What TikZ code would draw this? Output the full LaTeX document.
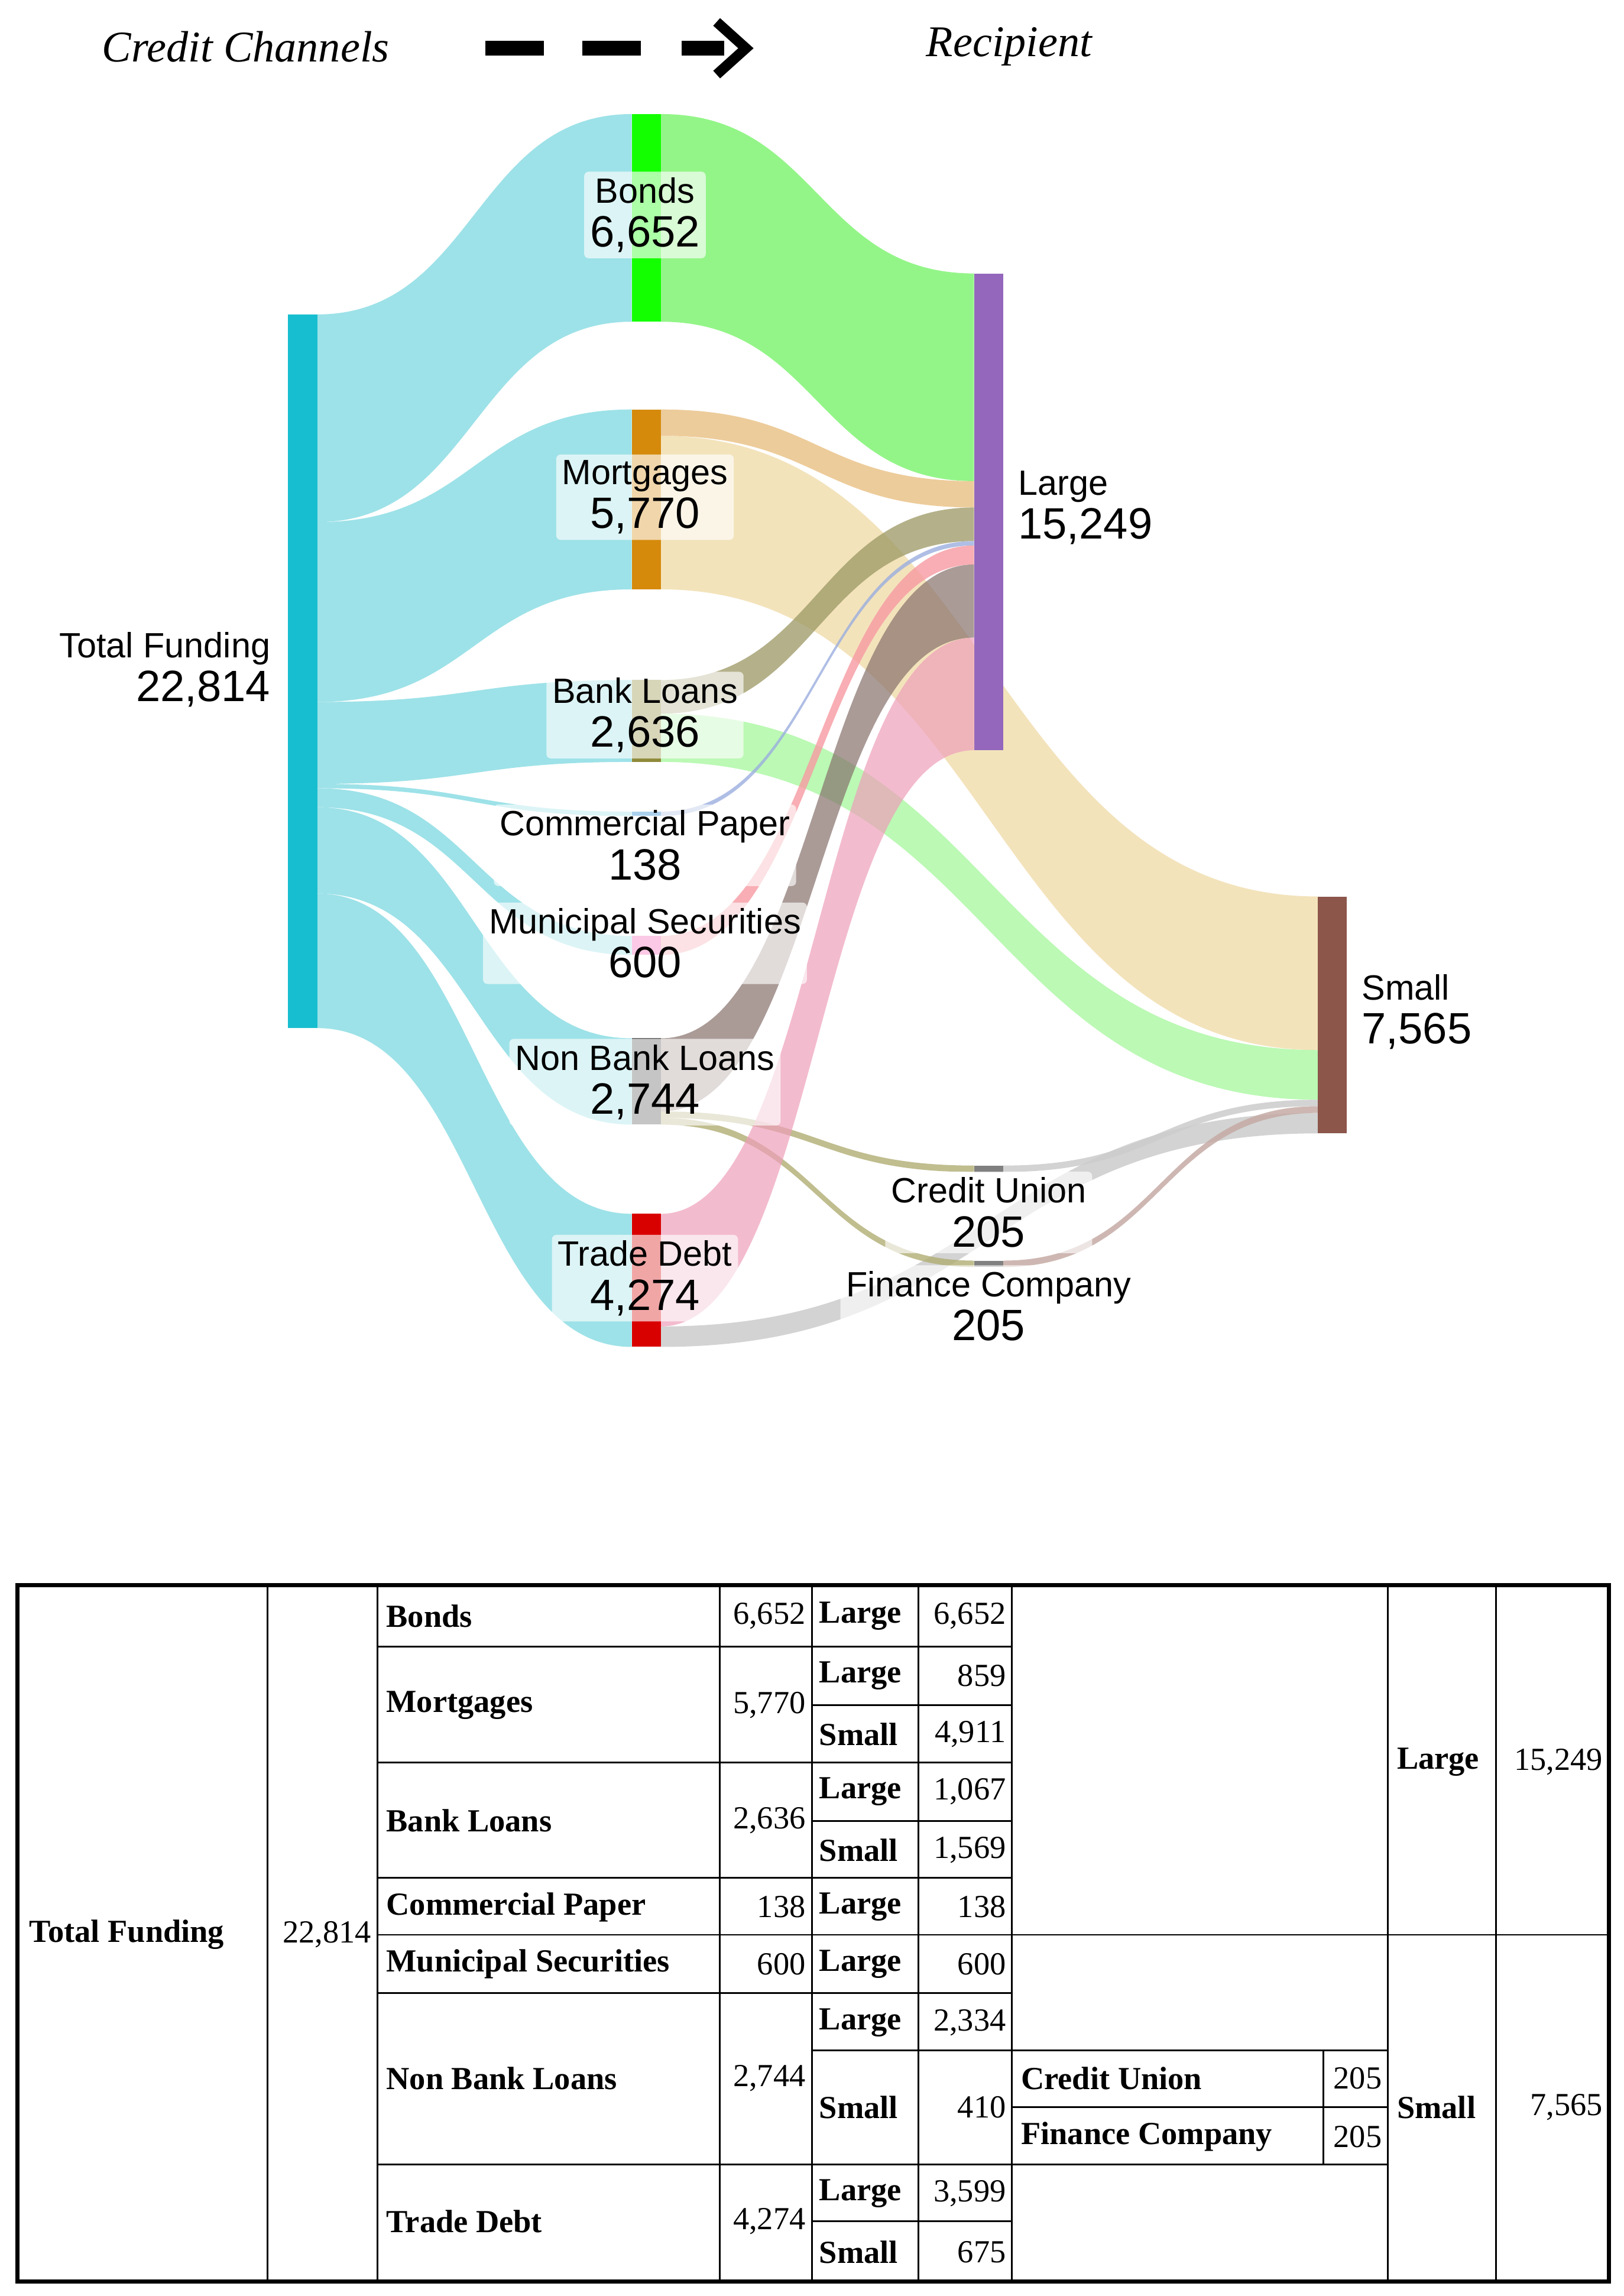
\documentclass[tikz,border=0pt]{standalone}
\usepackage{fontspec}
\setmainfont{Liberation Serif}
\newfontfamily\sk{Liberation Sans}
\usetikzlibrary{arrows.meta}
\definecolor{tealc}{HTML}{17BECF}
\definecolor{tflow}{HTML}{8CDDE4}
\definecolor{gflow}{HTML}{8EF582}
\definecolor{mflow}{HTML}{F2E0B4}
\definecolor{mflow2}{HTML}{EBC48A}
\definecolor{purp}{HTML}{9467BD}
\definecolor{brn}{HTML}{8C564B}
\definecolor{orn}{HTML}{D58A0C}
\newcommand\flow[7]{%
\pgfmathsetmacro\xm{(#1+#4)/2}%
\fill[#7] (#1,#2) .. controls (\xm,#2) and (\xm,#5) .. (#4,#5) -- (#4,#6) .. controls (\xm,#6) and (\xm,#3) .. (#1,#3) -- cycle;}
\tikzset{
 tc/.style={fill=tflow,opacity=0.85},
 lab/.style={fill=white,fill opacity=0.65,text opacity=1,rounded corners=3pt,align=center,font=\sk\fontsize{24}{30}\selectfont,inner sep=4pt},
 labn/.style={align=center,font=\sk\fontsize{24}{30}\selectfont,inner sep=2pt},
 cell/.style={font=\fontsize{22}{25}\selectfont,inner sep=4pt},
 cellb/.style={cell,font=\bfseries\fontsize{22}{25}\selectfont},
 thin/.style={line width=1.2pt}
}
\begin{document}
\begin{tikzpicture}[x=1pt,y=-1pt]
\useasboundingbox (0,0) rectangle (1110,1570);
\fill[white] (0,0) rectangle (1110,1570);
% header
\node[font=\itshape\fontsize{30}{34}\selectfont] (hc) at (168,32) {Credit Channels};
\node[font=\itshape\fontsize{30}{34}\selectfont] (hr) at (690,32) {Recipient};
\fill (332,28) rectangle (372,38);
\fill (398,28) rectangle (438,38);
\fill (466,28) rectangle (495,38);
\draw[line width=7pt] (490,15) -- (510,33) -- (490,51);
% flows from total
\flow{217}{215}{357}{432}{78}{220}{tc}
\flow{217}{357}{480}{432}{280}{403}{tc}
\flow{217}{480}{536}{432}{465}{521}{tc}
\flow{217}{536}{539}{432}{555}{558}{tc}
\flow{217}{539}{552}{432}{640}{653}{tc}
\flow{217}{552}{611}{432}{710}{769}{tc}
\flow{217}{611}{703}{432}{830}{921}{tc}
% to small
\flow{452}{298}{403}{901}{613}{718}{mflow,opacity=0.9}
\flow{452}{488}{521}{901}{718}{752}{gflow!70,opacity=0.85}
\flow{452}{907}{921}{901}{761}{775}{black!20,opacity=0.85}
\flow{452}{760}{764.4}{666}{797}{801.4}{olive!50!gray!70,opacity=0.8}
\flow{452}{764.4}{769}{666}{862}{866.4}{olive!50!gray!70,opacity=0.8}
\flow{686}{797}{801.4}{901}{752}{756.4}{black!20,opacity=0.85}
\flow{686}{862}{866.4}{901}{756.4}{761}{brn!50,opacity=0.85}
% to large
\flow{452}{78}{220}{666}{187}{329}{gflow,opacity=0.95}
\flow{452}{280}{298}{666}{329}{347}{mflow2,opacity=0.85}
\flow{452}{465}{488}{666}{347}{370}{olive!40!gray!90,opacity=0.75}
\flow{452}{555}{558}{666}{370}{373}{cyan!40!blue!40,opacity=0.8}
\flow{452}{640}{653}{666}{373}{386}{magenta!40!red!40,opacity=0.8}
\flow{452}{710}{760}{666}{386}{436}{brn!60!black!70,opacity=0.7}
\flow{452}{830}{907}{666}{436}{513}{magenta!50!purple!40,opacity=0.7}
% bars
\fill[tealc] (197,215) rectangle (217,703);
\fill[green!90!lime] (432,78) rectangle (452,220);
\fill[orn] (432,280) rectangle (452,403);
\fill[olive!60!gray] (432,465) rectangle (452,521);
\fill[cyan!60!blue] (432,555) rectangle (452,558);
\fill[magenta!60] (432,640) rectangle (452,653);
\fill[gray!70!black] (432,710) rectangle (452,769);
\fill[red!85!black] (432,830) rectangle (452,921);
\fill[purp] (666,187) rectangle (686,513);
\fill[brn] (901,613) rectangle (921,775);
\fill[gray] (666,797) rectangle (686,801.4);
\fill[gray] (666,862) rectangle (686,866.4);
% labels
\node[labn,align=right,anchor=east] (ltf) at (187,458) {Total Funding\\\fontsize{30}{34}\selectfont 22,814};
\node[lab] (lb) at (441,147) {Bonds\\\fontsize{30}{34}\selectfont 6,652};
\node[lab] (lm) at (441,340) {Mortgages\\\fontsize{30}{34}\selectfont 5,770};
\node[lab] (lbl) at (441,489) {Bank Loans\\\fontsize{30}{34}\selectfont 2,636};
\node[lab] (lcp) at (441,578) {Commercial Paper\\\fontsize{30}{34}\selectfont 138};
\node[lab] (lmu) at (441,645) {Municipal Securities\\\fontsize{30}{34}\selectfont 600};
\node[lab] (lnb) at (441,740) {Non Bank Loans\\\fontsize{30}{34}\selectfont 2,744};
\node[lab] (ltd) at (441,874) {Trade Debt\\\fontsize{30}{34}\selectfont 4,274};
\node[labn,align=left,anchor=west] (ll) at (694,347) {Large\\\fontsize{30}{34}\selectfont 15,249};
\node[labn,align=left,anchor=west] (ls) at (929,692) {Small\\\fontsize{30}{34}\selectfont 7,565};
\node[lab] (lcu) at (676,829) {Credit Union\\\fontsize{30}{34}\selectfont 205};
\node[lab] (lfc) at (676,893) {Finance Company\\\fontsize{30}{34}\selectfont 205};
% table
\draw[line width=3pt] (12,1084) rectangle (1100,1560);
\foreach \x in {183,258,692,949,1023} \draw[thin] (\x,1084) -- (\x,1560);
\foreach \x in {492,555,628} \draw[thin] (\x,1084) -- (\x,1560);
\draw[thin] (905,1402) -- (905,1480);
\foreach \y in {1126,1205,1284,1323,1363,1480} \draw[thin] (258,\y) -- (692,\y);
\foreach \y in {1166,1245,1402,1519} \draw[thin] (555,\y) -- (692,\y);
\draw[thin] (692,1323) -- (1100,1323);
\foreach \y in {1402,1441,1480} \draw[thin] (692,\y) -- (949,\y);
\node[cellb,anchor=west] (t0) at (16,1323) {Total Funding};
\node[cell,anchor=east] (t1) at (258,1323) {22,814};
\foreach \n/\v/\y in {Bonds/{6,652}/1105,Mortgages/{5,770}/1166,Bank Loans/{2,636}/1245,Commercial Paper/138/1304,Municipal Securities/600/1343,Non Bank Loans/{2,744}/1421,Trade Debt/{4,274}/1519}{
 \node[cellb,anchor=west] at (260,\y) {\n};
 \node[cell,anchor=east] at (555,\y) {\v};}
\foreach \n/\v/\y in {Large/{6,652}/1105,Large/859/1146,Small/{4,911}/1186,Large/{1,067}/1225,Small/{1,569}/1265,Large/138/1304,Large/600/1343,Large/{2,334}/1383,Small/410/1441,Large/{3,599}/1500,Small/675/1540}{
 \node[cellb,anchor=west] at (556,\y) {\n};
 \node[cell,anchor=east] at (692,\y) {\v};}
\node[cellb,anchor=west] (tcu) at (694,1421) {Credit Union};
\node[cell,anchor=east] (tcuv) at (949,1421) {205};
\node[cellb,anchor=west] (tfc) at (694,1461) {Finance Company};
\node[cell,anchor=east] (tfcv) at (949,1461) {205};
\node[cellb,anchor=west] (tl) at (951,1205) {Large};
\node[cell,anchor=east] (tlv) at (1100,1205) {15,249};
\node[cellb,anchor=west] (ts) at (951,1441) {Small};
\node[cell,anchor=east] (tsv) at (1100,1441) {7,565};
\end{tikzpicture}
\end{document}
